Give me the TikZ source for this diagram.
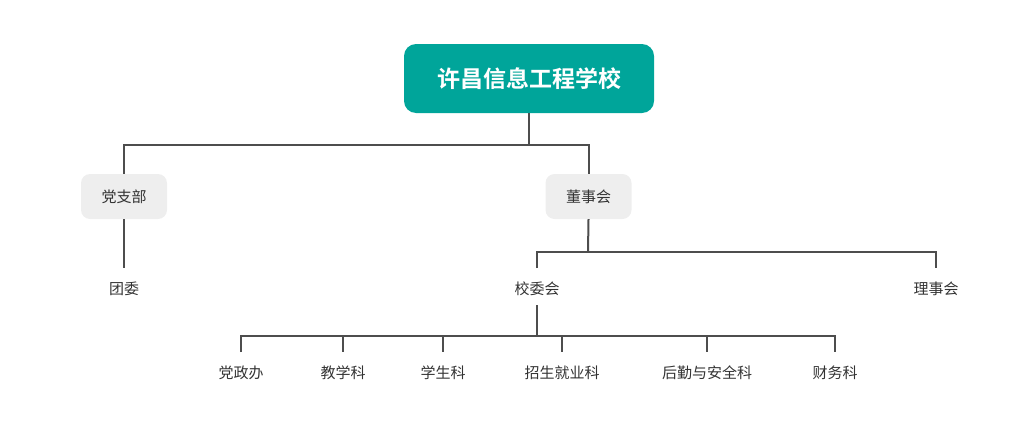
\documentclass[tikz,border=0pt]{standalone}
\usepackage{fontspec}
\setmainfont{Noto Sans CJK SC}
\newfontfamily\cjkbold{Noto Sans CJK SC Bold}
\definecolor{teal1}{HTML}{00A59A}
\definecolor{lin}{HTML}{4D4D4D}
\definecolor{gbox}{HTML}{EEEEEE}
\definecolor{txt}{HTML}{333333}
\begin{document}
\begin{tikzpicture}[x=1pt,y=-1pt,
  conn/.style={draw=lin,line width=2pt},
  lbl/.style={text=txt,font=\fontsize{15}{18}\selectfont,inner sep=0pt},
  gb/.style={fill=gbox,rounded corners=9pt,minimum width=86pt,minimum height=45pt,text=txt,font=\fontsize{15}{18}\selectfont}]
\useasboundingbox (0,0) rectangle (1030,434);
\node[fill=teal1,rounded corners=12pt,minimum width=250pt,minimum height=69pt,text=white,font=\cjkbold\fontsize{23}{28}\selectfont] (root) at (529,78.5) {许昌信息工程学校};
\node[gb] (dzb) at (124,196.5) {党支部};
\node[gb] (dsh) at (588.5,196.5) {董事会};
\node[lbl] (tw) at (124,289) {团委};
\node[lbl] (xwh) at (537,289) {校委会};
\node[lbl] (lsh) at (936,289) {理事会};
\node[lbl] (c1) at (241,373) {党政办};
\node[lbl] (c2) at (343,373) {教学科};
\node[lbl] (c3) at (443,373) {学生科};
\node[lbl] (c4) at (562,373) {招生就业科};
\node[lbl] (c5) at (707,373) {后勤与安全科};
\node[lbl] (c6) at (835,373) {财务科};
\coordinate (j1) at (529,145);
\coordinate (j2) at (588,252);
\coordinate (j3) at (537,336);
\draw[conn] (root.south) -- (j1);
\draw[conn] (dzb.north) |- (j1) -| (dsh.north);
\draw[conn] (dzb.south) -- (124,268);
\draw[conn] (dsh.south) -- (j2);
\draw[conn] (537,268) |- (j2) -| (936,268);
\draw[conn,line width=2.5pt] (537,305) -- (j3);
\draw[conn] (241,352) |- (j3) -| (835,352);
\foreach \x in {343,443,562,707} \draw[conn] (\x,336) -- (\x,352);
\end{tikzpicture}
\end{document}
